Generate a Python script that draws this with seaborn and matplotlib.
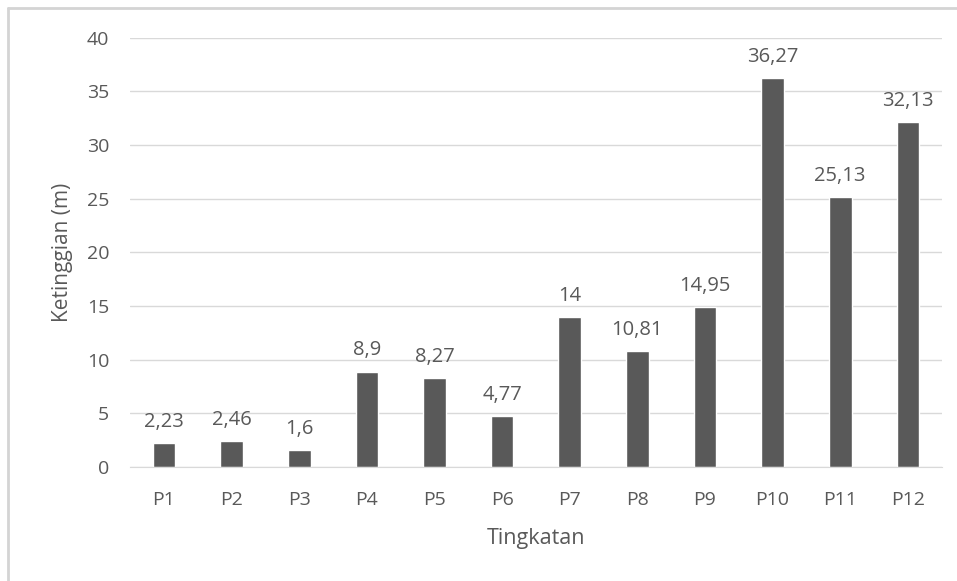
import matplotlib
matplotlib.use('Agg')
import matplotlib.pyplot as plt
import pandas as pd
import seaborn as sns
from matplotlib.lines import Line2D

# data
tingkatan = ['P1', 'P2', 'P3', 'P4', 'P5', 'P6', 'P7', 'P8', 'P9', 'P10', 'P11', 'P12']
ketinggian = [2.23, 2.46, 1.6, 8.9, 8.27, 4.77, 14, 10.81, 14.95, 36.27, 25.13, 32.13]
value_labels = ['2,23', '2,46', '1,6', '8,9', '8,27', '4,77', '14', '10,81', '14,95', '36,27', '25,13', '32,13']
y_ticks = [0, 5, 10, 15, 20, 25, 30, 35, 40]

sns.set_style('white')
plt.rcParams['font.family'] = ['Open Sans', 'DejaVu Sans']

text_color = '#595959'
bar_color = '#595959'
grid_color = '#d9d9d9'

df = pd.DataFrame({'Tingkatan': tingkatan, 'Ketinggian': ketinggian})

fig = plt.figure(figsize=(9.57, 5.81), dpi=100)
ax = fig.add_axes([0.136, 0.196, 0.848, 0.739])

sns.barplot(data=df, x='Tingkatan', y='Ketinggian', ax=ax,
            color=bar_color, width=0.334, saturation=1)

ax.bar_label(ax.containers[0], labels=value_labels, padding=8,
             color=text_color, fontsize=14.5)

ax.set_ylim(0, 40)
ax.set_xlim(-0.5, 11.5)
ax.set_yticks(y_ticks)
ax.yaxis.grid(True, color=grid_color, linewidth=1)
ax.set_axisbelow(True)
for side in ['top', 'right', 'left']:
    ax.spines[side].set_visible(False)
ax.spines['bottom'].set_color(grid_color)
ax.tick_params(axis='both', length=0, labelsize=14, colors=text_color)
ax.tick_params(axis='x', pad=17)
ax.tick_params(axis='y', pad=15)

ax.set_xlabel('Tingkatan', color=text_color, fontsize=15.5, labelpad=14)
ax.set_ylabel('Ketinggian (m)', color=text_color, fontsize=15, labelpad=10)

# thin frame on top and left like the source screenshot
fig.add_artist(Line2D([8 / 957, 1], [1 - 8 / 581, 1 - 8 / 581],
                      transform=fig.transFigure, color='#d4d4d4', linewidth=2))
fig.add_artist(Line2D([8 / 957, 8 / 957], [0, 1 - 8 / 581],
                      transform=fig.transFigure, color='#d4d4d4', linewidth=2))

fig.savefig('out.png', dpi=100)
